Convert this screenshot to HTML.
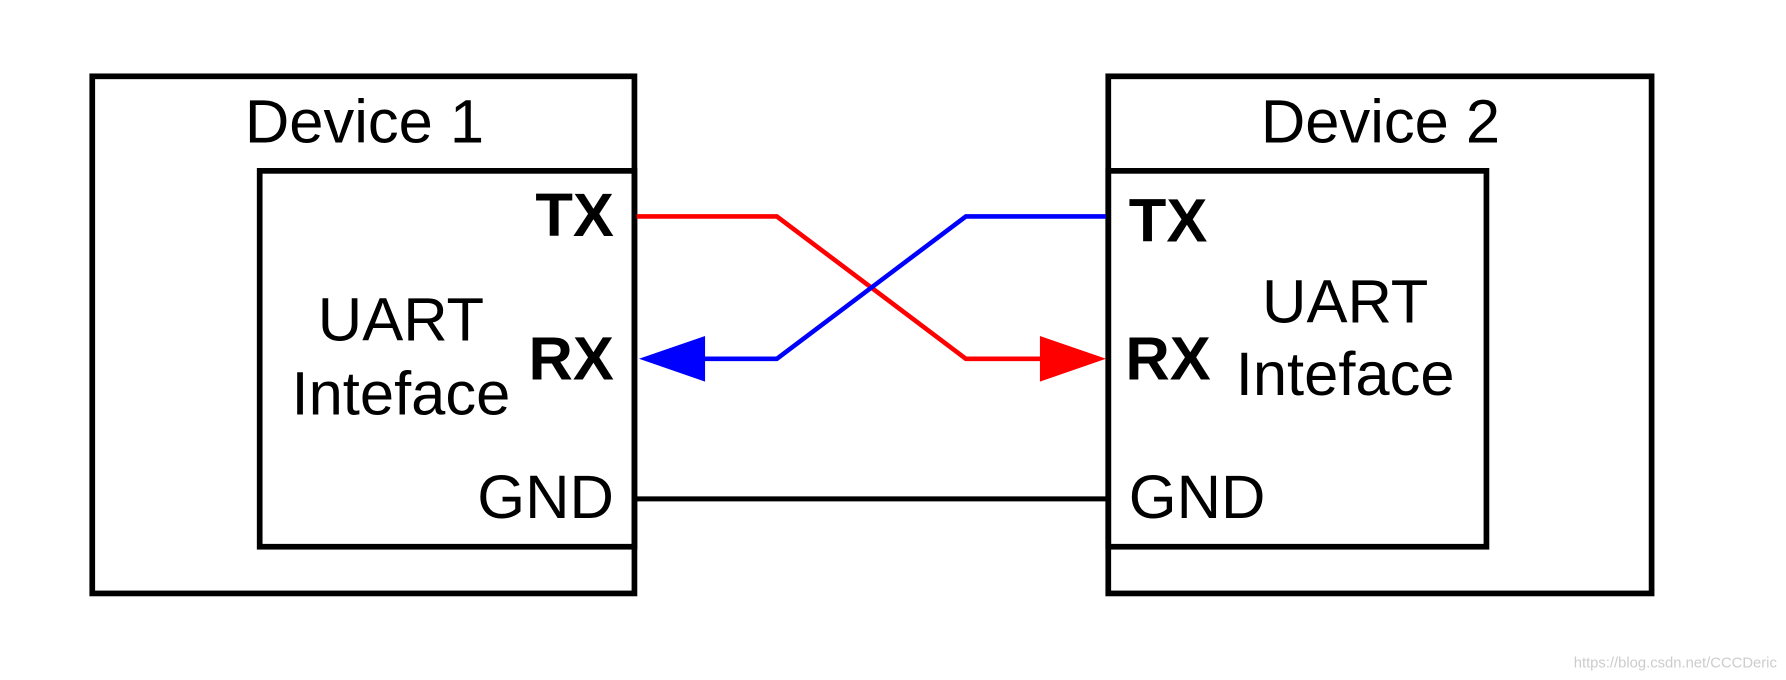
<!DOCTYPE html>
<html><head><meta charset="utf-8"><style>html,body{margin:0;padding:0;background:#fff}svg{display:block}</style></head>
<body>
<svg width="1786" height="680" viewBox="0 0 1568 597" preserveAspectRatio="none" xmlns="http://www.w3.org/2000/svg" font-family="Liberation Sans, Arial, sans-serif">
<rect width="1568" height="597" fill="#fff"/>
<g fill="none" stroke="#000" stroke-width="5">
<rect x="81" y="67" width="476" height="454"/>
<rect x="228" y="150" width="329" height="330"/>
<rect x="973" y="67" width="477" height="454"/>
<rect x="973" y="150" width="332" height="330"/>
</g>
<line x1="559" y1="438" x2="973" y2="438" stroke="#000" stroke-width="4.4"/>
<polyline points="559,190 682,190 848,315 915,315" fill="none" stroke="#f00" stroke-width="4"/>
<polygon points="913,295 971,315 913,335" fill="#f00"/>
<polyline points="971,190 848,190 682,315 617,315" fill="none" stroke="#00f" stroke-width="4"/>
<polygon points="619,295 561,315 619,335" fill="#00f"/>
<g fill="#000" font-size="54">
<text x="320" y="125" text-anchor="middle">Device 1</text>
<text x="1212" y="125" text-anchor="middle">Device 2</text>
<text x="539" y="207" text-anchor="end" font-weight="bold">TX</text>
<text x="539" y="333" text-anchor="end" font-weight="bold">RX</text>
<text x="539" y="455" text-anchor="end">GND</text>
<text x="352" y="299" text-anchor="middle">UART</text>
<text x="352" y="364" text-anchor="middle">Inteface</text>
<text x="991" y="212" font-weight="bold">TX</text>
<text x="988" y="333" font-weight="bold">RX</text>
<text x="991" y="455">GND</text>
<text x="1181" y="283" text-anchor="middle">UART</text>
<text x="1181" y="347" text-anchor="middle">Inteface</text>
</g>
<text x="1560" y="586" text-anchor="end" font-size="13" fill="#ccc">https://blog.csdn.net/CCCDeric</text>
</svg>
</body></html>
